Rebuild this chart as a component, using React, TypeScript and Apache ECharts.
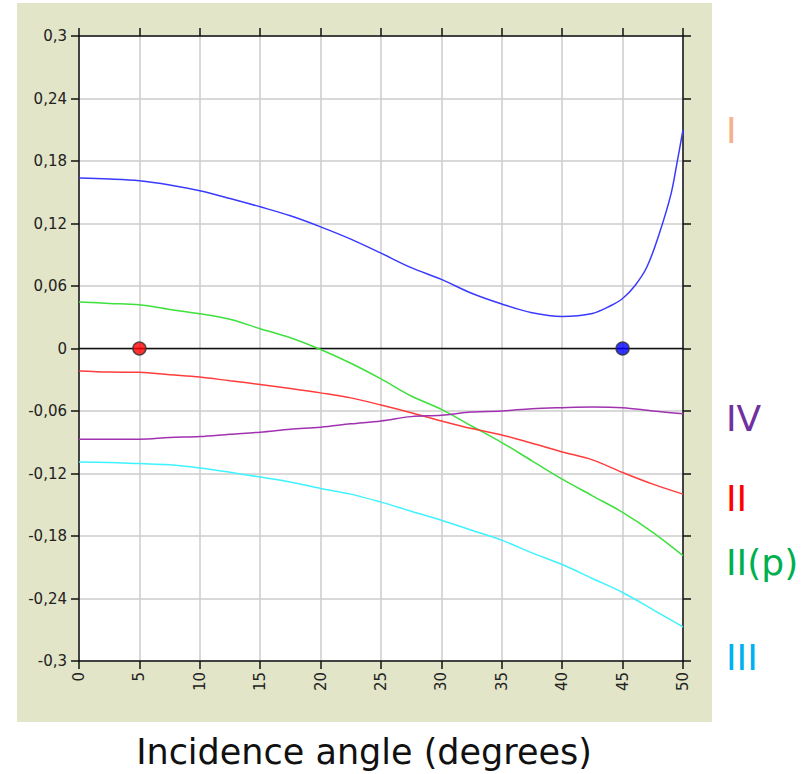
import React, { useEffect, useRef } from "react";
import * as echarts from "echarts";

// Incidence angle samples (degrees)
const angles = [0, 2.5, 5, 7.5, 10, 12.5, 15, 17.5, 20, 22.5, 25, 27.5, 30, 32.5, 35, 37.5, 40, 42.5, 45, 47.5, 50];
const blueAngles = [0, 2.5, 5, 7.5, 10, 12.5, 15, 17.5, 20, 22.5, 25, 27.5, 30, 32.5, 35, 37.5, 40, 42.5, 44, 45, 46, 47, 48, 49, 49.5, 50];

// Curve values
const curveI = [0.1636, 0.1627, 0.161, 0.157, 0.1514, 0.144, 0.136, 0.1274, 0.1168, 0.105, 0.0915, 0.0776, 0.0664, 0.053, 0.0427, 0.0343, 0.0308, 0.0337, 0.041, 0.048, 0.06, 0.078, 0.109, 0.148, 0.178, 0.21];
const curveIIp = [0.0446, 0.0433, 0.042, 0.0375, 0.0334, 0.028, 0.019, 0.0103, -0.001, -0.0142, -0.0292, -0.0456, -0.0584, -0.0744, -0.0903, -0.1079, -0.1254, -0.1414, -0.1573, -0.1765, -0.1989];
const curveII = [-0.0216, -0.0226, -0.0229, -0.0252, -0.0274, -0.031, -0.0345, -0.0384, -0.0426, -0.0474, -0.0542, -0.0616, -0.0696, -0.0769, -0.083, -0.091, -0.0993, -0.1069, -0.119, -0.1302, -0.1398];
const curveIV = [-0.0871, -0.0871, -0.0871, -0.0855, -0.0845, -0.0823, -0.0803, -0.0775, -0.0755, -0.0723, -0.0695, -0.0654, -0.0641, -0.061, -0.06, -0.0578, -0.0568, -0.0562, -0.0568, -0.06, -0.0626];
const curveIII = [-0.109, -0.1094, -0.1105, -0.1116, -0.1147, -0.1189, -0.1234, -0.1282, -0.1343, -0.1398, -0.1475, -0.1562, -0.1648, -0.1744, -0.184, -0.1962, -0.2074, -0.2208, -0.2342, -0.2506, -0.2672];

// Marked points on the zero line
const redPoint = [5, 0];
const bluePoint = [45, 0];

// Side labels
const sideLabels = [
  { text: "I", color: "#f7b08a", y: 130 },
  { text: "IV", color: "#7030a0", y: 418 },
  { text: "II", color: "#ff0000", y: 498 },
  { text: "II(p)", color: "#00b050", y: 562 },
  { text: "III", color: "#00b0f0", y: 657 },
];

const xTitle = "Incidence angle (degrees)";

const pair = (xs: number[], ys: number[]) => xs.map((x, i) => [x, ys[i]]);

const fmt = (v: number) => String(Math.round(v * 100) / 100).replace(".", ",");

export default function App() {
  const ref = useRef<HTMLDivElement>(null);

  useEffect(() => {
    if (!ref.current) return;
    const chart = echarts.init(ref.current, null, { renderer: "svg" });

    const curve = (name: string, xs: number[], ys: number[], color: string) => ({
      name,
      type: "line",
      data: pair(xs, ys),
      showSymbol: false,
      smooth: 0.35,
      lineStyle: { width: 1.5, color },
      z: 3,
    });

    const axisLine = { show: true, onZero: false, lineStyle: { color: "#111", width: 1.5 } };
    const axisTick = { show: true, inside: false, length: 8, lineStyle: { color: "#111", width: 1.5 } };
    const splitLine = { show: true, lineStyle: { color: "#cccccc", width: 1.5 } };
    const labelFont = { fontFamily: "DejaVu Sans", fontSize: 15, color: "#222" };

    chart.setOption({
      animation: false,
      backgroundColor: "#ffffff",
      grid: {
        left: 79,
        top: 36,
        width: 604,
        height: 625,
        show: true,
        backgroundColor: "#ffffff",
        borderWidth: 0,
      },
      graphic: [
        {
          type: "rect",
          shape: { x: 17, y: 3, width: 695, height: 719 },
          style: { fill: "#e2e5c8" },
          z: -10,
          silent: true,
        },
        ...sideLabels.map((l) => ({
          type: "text",
          x: 726,
          y: l.y,
          style: {
            text: l.text,
            fill: l.color,
            font: "36px 'DejaVu Sans'",
            textAlign: "left",
            textVerticalAlign: "middle",
          },
        })),
        {
          type: "text",
          x: 364,
          y: 752,
          style: {
            text: xTitle,
            fill: "#111",
            font: "35px 'DejaVu Sans'",
            textAlign: "center",
            textVerticalAlign: "middle",
          },
        },
      ],
      xAxis: [
        {
          type: "value",
          position: "bottom",
          min: 0,
          max: 50,
          interval: 5,
          axisLine,
          axisTick,
          splitLine,
          axisLabel: { ...labelFont, rotate: 90, margin: 11 },
        },
        {
          type: "value",
          position: "top",
          min: 0,
          max: 50,
          interval: 5,
          axisLine,
          axisTick,
          splitLine: { show: false },
          axisLabel: { show: false },
        },
      ],
      yAxis: [
        {
          type: "value",
          position: "left",
          min: -0.3,
          max: 0.3,
          interval: 0.06,
          axisLine,
          axisTick,
          splitLine,
          axisLabel: { ...labelFont, margin: 12, formatter: fmt },
        },
        {
          type: "value",
          position: "right",
          min: -0.3,
          max: 0.3,
          interval: 0.06,
          axisLine,
          axisTick,
          splitLine: { show: false },
          axisLabel: { show: false },
        },
      ],
      series: [
        {
          name: "zero",
          type: "line",
          data: [
            [0, 0],
            [50, 0],
          ],
          showSymbol: false,
          lineStyle: { color: "#111", width: 1.5 },
          z: 2,
        },
        curve("I", blueAngles, curveI, "#3a3aff"),
        curve("II(p)", angles, curveIIp, "#3ee03e"),
        curve("II", angles, curveII, "#ff3c3c"),
        curve("IV", angles, curveIV, "#a032b0"),
        curve("III", angles, curveIII, "#3ff2ff"),
        {
          type: "scatter",
          data: [redPoint],
          symbolSize: 13,
          itemStyle: { color: "#ff0000", borderColor: "#333", borderWidth: 1.5 },
          z: 5,
        },
        {
          type: "scatter",
          data: [bluePoint],
          symbolSize: 13,
          itemStyle: { color: "#0000ff", borderColor: "#333", borderWidth: 1.5 },
          z: 5,
        },
      ],
    });

    return () => chart.dispose();
  }, []);

  return (
    <div
      ref={ref}
      style={{ position: "fixed", left: 0, top: 0, width: 805, height: 774 }}
    />
  );
}
